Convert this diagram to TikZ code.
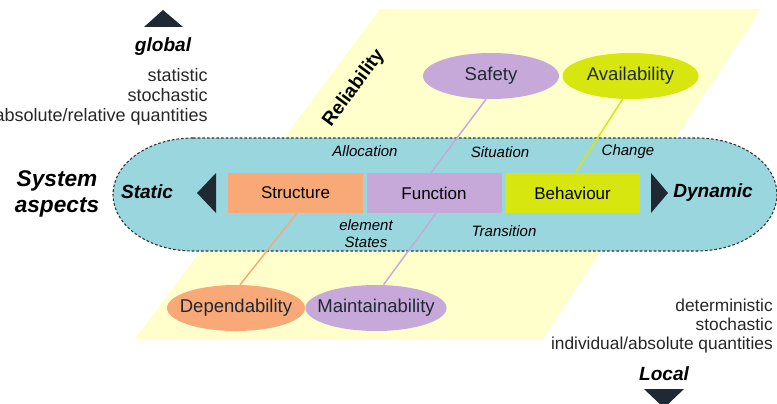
\documentclass[tikz,border=0pt]{standalone}
\usepackage{fontspec}
\setmainfont{Liberation Sans}
\usetikzlibrary{positioning,shapes.geometric}
\definecolor{plane}{HTML}{FFFFCC}
\definecolor{band}{HTML}{99D6DE}
\definecolor{salmon}{HTML}{F9A878}
\definecolor{lilac}{HTML}{C6A9D9}
\definecolor{lime}{HTML}{D6E60E}
\definecolor{ink}{HTML}{1F2933}

\begin{document}
\begin{tikzpicture}
    [x=0.75pt, y=-0.75pt,
     box/.style={rectangle, minimum width=101.25pt, minimum height=30pt, inner sep=0pt, font=\fontsize{12.75}{15}\selectfont},
     oval/.style={ellipse, minimum width=102pt, minimum height=34.5pt, inner xsep=-15pt, inner ysep=0pt, font=\fontsize{13.9}{16}\selectfont, text=ink},
     lbl/.style={font=\fontsize{11.25}{12.75}\selectfont\itshape, align=center},
     side/.style={font=\fontsize{13}{14.6}\selectfont, align=right, inner sep=0pt, text=black!85},
     big/.style={font=\fontsize{14.3}{16}\selectfont\bfseries\itshape},
     tri/.style={fill=ink},
     link/.style={line width=1.1pt}]

    \useasboundingbox (0,0) rectangle (777,403);

    % planes
    \fill [plane] (380,9) -- (761,9) -- (543,339) -- (135,339) -- cycle;
    \draw [fill=band, draw=black!80, line width=0.8pt, dash pattern=on 2pt off 1.5pt]
        (193,138) -- (697,138) arc [start angle=-90, end angle=90, x radius=80, y radius=56.5]
        -- (193,251) arc [start angle=90, end angle=270, x radius=80, y radius=56.5] -- cycle;

    \node [rotate=53.4, font=\fontsize{14.3}{16}\selectfont\bfseries] (reliab) at (354,88) {Reliability};

    % aspects
    \node [box, fill=salmon] (structure) at (295.5,193) {Structure};
    \node [box, fill=lilac, right=2.25pt of structure] (function) {Function};
    \node [box, fill=lime, right=2.25pt of function] (behaviour) {Behaviour};

    \node [oval, fill=lilac] (safety) at (491,76) {Safety};
    \node [oval, fill=lime, right=2.25pt of safety] (avail) {Availability};
    \node [oval, fill=salmon, minimum width=103.5pt] (depend) at (236,308) {Dependability};
    \node [oval, fill=lilac, right=0pt of depend, minimum width=105.75pt] (maintain) {Maintainability};

    \draw [link, draw=lilac] ([xshift=-3.75pt]safety.south) -- ([xshift=-2.25pt]function.north);
    \draw [link, draw=lilac] ([xshift=1.5pt]function.south) -- ([xshift=5.6pt]maintain.north);
    \draw [link, draw=lime] ([xshift=-6pt]avail.south) -- ([xshift=1.9pt]behaviour.north);
    \draw [link, draw=salmon] ([xshift=1pt]structure.south) -- ([xshift=3pt]depend.north);

    \node [lbl] (alloc) at (365,151) {Allocation};
    \node [lbl] (situ) at (500,152) {Situation};
    \node [lbl] (change) at (628,152) {Change};
    \node [lbl] (states) at (366,234) {element\\States};
    \node [lbl] (trans) at (504,231) {Transition};

    % directions
    \fill [tri] (216,173) -- (197,193) -- (216,213) -- cycle;
    \fill [tri] (651,173) -- (668,193) -- (651,213) -- cycle;
    \fill [tri] (144,27) -- (163,10) -- (183,27) -- cycle;
    \fill [tri] (644,389) -- (664,408) -- (684,389) -- cycle;

    \node [big] (static) at (147,192) {Static};
    \node [big] (dynamic) at (713,193) {Dynamic};
    \node [font=\fontsize{17}{20}\selectfont\bfseries\itshape, align=center] (system) at (57,194) {System\\aspects};
    \node [big] (global) at (163,47) {global};
    \node [big] (local) at (664,374) {Local};

    \node [side, anchor=east, font=\fontsize{13.5}{15}\selectfont] (upper) at (208,97) {statistic\\stochastic\\absolute/relative quantities};
    \node [side, anchor=east] (lower) at (773,326) {deterministic\\stochastic\\individual/absolute quantities};
\end{tikzpicture}
\end{document}
